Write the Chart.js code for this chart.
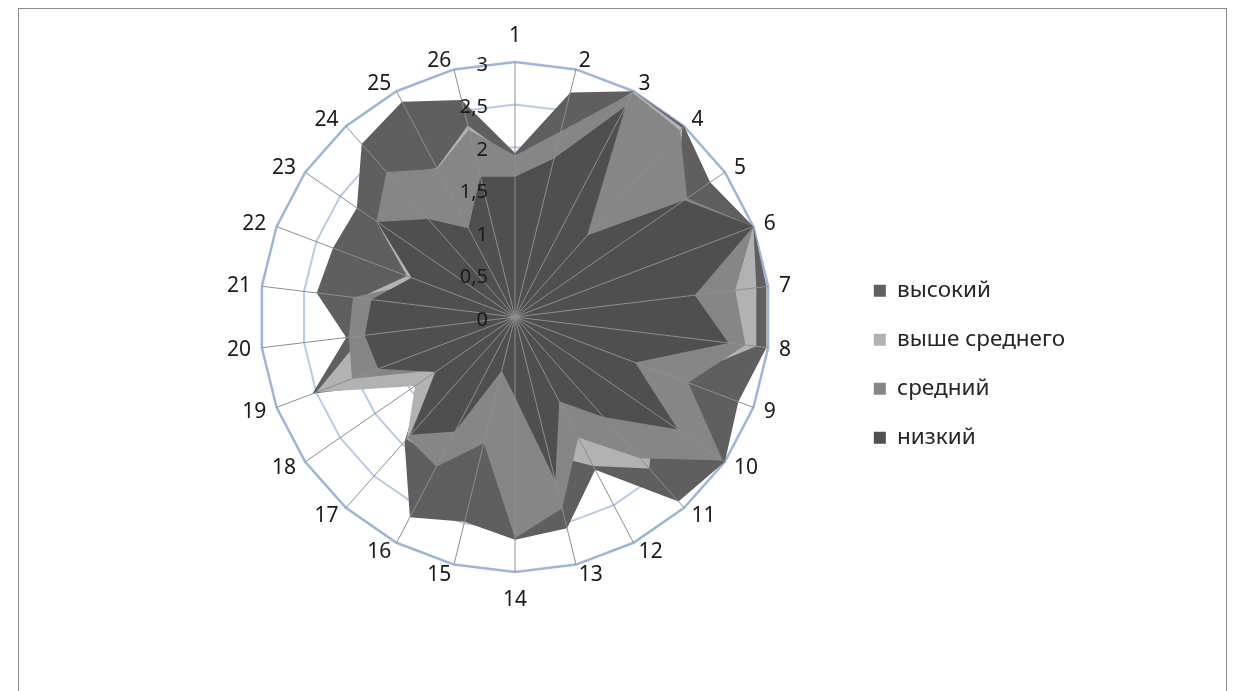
<!DOCTYPE html>
<html>
<head>
<meta charset="utf-8">
<script src="https://cdn.jsdelivr.net/npm/chart.js@4/dist/chart.umd.min.js"></script>
<style>
  html, body { margin: 0; padding: 0; background: #ffffff; overflow: hidden; }
  #wrap { position: absolute; left: 0; top: 0; width: 1236px; height: 691px; }
  #frame { position: absolute; left: 18px; top: 8px; width: 1209px; height: 720px;
           border: 1px solid #8c8c8c; box-sizing: border-box; pointer-events: none; }
</style>
</head>
<body>
<div id="wrap"><canvas id="radar" width="1236" height="691"></canvas></div>
<div id="frame"></div>
<script>
// Spokes 1..26
const categories = ['1','2','3','4','5','6','7','8','9','10','11','12','13',
                    '14','15','16','17','18','19','20','21','22','23','24','25','26'];

// Level shares per spoke
const vysokiy       = [1.93, 2.72, 3.00, 3.00, 2.79, 3.00, 2.98, 2.98, 2.81, 3.00, 2.90, 2.03, 2.56,
                       2.62, 2.48, 2.66, 1.96, 1.30, 2.55, 2.00, 2.35, 2.29, 2.26, 2.72, 2.86, 2.63];
const vysheSrednego = [1.85, 2.15, 3.00, 2.97, 2.30, 3.00, 2.86, 2.86, 2.05, 2.00, 2.38, 1.98, 1.67,
                       2.50, 1.45, 1.90, 1.92, 1.43, 2.50, 1.80, 1.85, 1.36, 1.98, 2.20, 1.98, 2.32];
const sredniy       = [1.90, 2.25, 2.98, 2.93, 2.46, 3.00, 2.61, 2.73, 2.18, 2.97, 2.22, 1.60, 2.32,
                       2.60, 1.53, 1.99, 1.90, 1.10, 2.05, 1.97, 1.92, 1.15, 1.98, 2.28, 1.97, 2.27];
const nizkiy        = [1.65, 1.92, 2.80, 1.28, 2.42, 3.00, 2.13, 2.53, 1.51, 2.33, 1.57, 1.12, 1.98,
                       0.94, 0.65, 1.52, 1.85, 1.14, 1.72, 1.78, 1.70, 1.30, 1.97, 1.54, 1.18, 1.70];

// Ring values and their captions
const tickValues = [0, 0.5, 1, 1.5, 2, 2.5, 3];
const tickLabels = ['0', '0,5', '1', '1,5', '2', '2,5', '3'];

const FONT = '"Noto Sans", "DejaVu Sans", sans-serif';

// Ring captions sit to the left of the first spoke
const ringCaptions = {
  id: 'ringCaptions',
  afterDraw(chart) {
    const s = chart.scales.r;
    const ctx = chart.ctx;
    ctx.save();
    ctx.font = '20px ' + FONT;
    ctx.fillStyle = '#1a1a1a';
    ctx.textAlign = 'right';
    ctx.textBaseline = 'middle';
    tickValues.forEach((v, i) => {
      const p = s.getPointPositionForValue(0, v);
      ctx.fillText(tickLabels[i], p.x - 27, p.y + 3);
    });
    ctx.restore();
  }
};

// Spoke captions hug the outer end of each spoke, pushed sideways
const spokeCaptions = {
  id: 'spokeCaptions',
  afterDraw(chart) {
    const s = chart.scales.r;
    const ctx = chart.ctx;
    ctx.save();
    ctx.font = '21px ' + FONT;
    ctx.fillStyle = '#1a1a1a';
    ctx.textAlign = 'center';
    ctx.textBaseline = 'middle';
    categories.forEach((label, i) => {
      const end = s.getPointPositionForValue(i, s.max);
      const a = s.getIndexAngle(i);
      const sin = Math.sin(a), cos = Math.cos(a);
      const w = ctx.measureText(label).width;
      let dx, dy;
      if (Math.abs(sin) < 0.01) {
        dx = 0;
        dy = -Math.sign(cos) * 27;
      } else {
        dx = Math.sign(sin) * (w / 2 + 11 * Math.abs(sin));
        dy = -9.5 * cos;
      }
      ctx.fillText(label, end.x + dx, end.y + dy + 1);
    });
    ctx.restore();
  }
};

// Drawn back to front: the last dataset is painted first
const datasets = [
  { label: 'низкий',        data: nizkiy,        backgroundColor: '#4f4f4f' },
  { label: 'средний',       data: sredniy,       backgroundColor: '#868686' },
  { label: 'выше среднего', data: vysheSrednego, backgroundColor: '#b2b2b2' },
  { label: 'высокий',       data: vysokiy,       backgroundColor: '#5f5f5f' }
].map(d => Object.assign(d, {
  fill: 'origin',
  borderWidth: 0,
  borderColor: d.backgroundColor,
  pointRadius: 0,
  pointHoverRadius: 0
}));

new Chart(document.getElementById('radar'), {
  type: 'radar',
  data: { labels: categories, datasets },
  plugins: [ringCaptions, spokeCaptions],
  options: {
    responsive: false,
    animation: false,
    layout: { padding: { left: 183, right: 161, top: 26, bottom: 83 } },
    elements: { line: { tension: 0 } },
    plugins: {
      tooltip: { enabled: false },
      legend: {
        position: 'right',
        align: 'center',
        reverse: true,
        title: { display: true, text: '', font: { size: 12 }, padding: { top: 80, bottom: 0 } },
        labels: {
          boxWidth: 12,
          boxHeight: 12,
          padding: 26.5,
          color: '#262626',
          font: { family: FONT, size: 22.5 }
        }
      }
    },
    scales: {
      r: {
        min: 0,
        max: 3,
        ticks: { display: false, stepSize: 0.5 },
        grid: {
          color: (c) => (c.tick && c.tick.value === 3) ? '#9bb5e0' : '#b8cae9',
          lineWidth: (c) => (c.tick && c.tick.value === 3) ? 2.5 : 2
        },
        angleLines: { display: false },
        pointLabels: {
          color: 'rgba(0,0,0,0)',
          padding: 12,
          font: { family: FONT, size: 20 }
        }
      },
      spokes: {
        type: 'radialLinear',
        axis: 'r',
        min: 0,
        max: 3,
        ticks: { display: false, stepSize: 0.5 },
        grid: { display: false, z: 1 },
        angleLines: { display: true, color: '#8e8e8e', lineWidth: 1 },
        pointLabels: {
          color: 'rgba(0,0,0,0)',
          padding: 12,
          font: { family: FONT, size: 20 }
        }
      }
    }
  }
});
</script>
</body>
</html>
